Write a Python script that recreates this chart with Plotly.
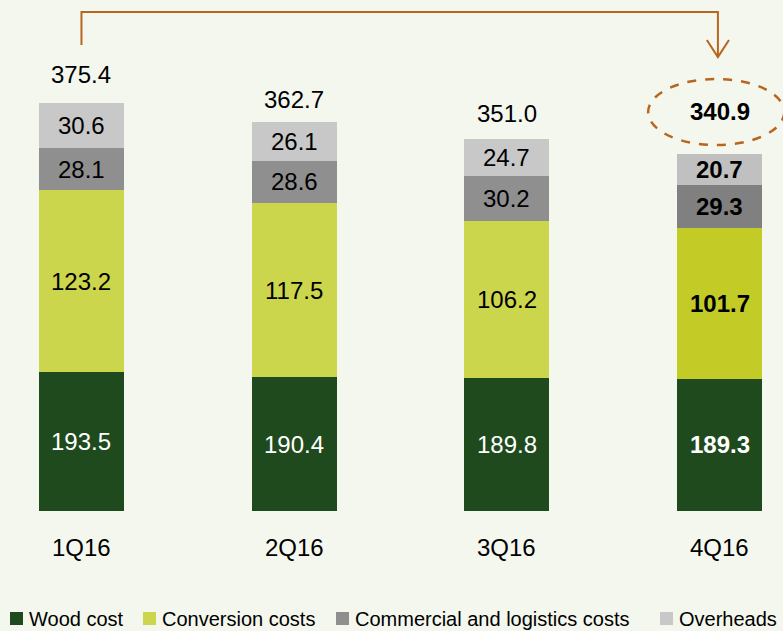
import plotly.graph_objects as go

quarters = ["1Q16", "2Q16", "3Q16", "4Q16"]
wood_cost = [193.5, 190.4, 189.8, 189.3]
conversion_costs = [123.2, 117.5, 106.2, 101.7]
commercial_logistics = [28.1, 28.6, 30.2, 29.3]
overheads = [30.6, 26.1, 24.7, 20.7]
totals = [375.4, 362.7, 351.0, 340.9]
series_names = ["Wood cost", "Conversion costs", "Commercial and logistics costs", "Overheads"]

FONT = "Liberation Sans, Arial, sans-serif"
FS = 24
BG = "#F4F7EE"
Y_MIN, Y_MAX = 100, 444.9
W, H = 783, 631

col_wood = ["#1F4A1E"] * 4
col_conv = ["#CCD64C"] * 3 + ["#C3CC27"]
col_comm = ["#8F8F8F"] * 3 + ["#808080"]
col_over = ["#C8C8C8"] * 3 + ["#C0C0C0"]
legend_colors = ["#1F4A1E", "#CCD64C", "#8F8F8F", "#C8C8C8"]

fig = go.Figure()
series = [wood_cost, conversion_costs, commercial_logistics, overheads]
colors = [col_wood, col_conv, col_comm, col_over]
for name, vals, cols in zip(series_names, series, colors):
    fig.add_trace(go.Bar(x=quarters, y=vals, name=name, marker=dict(color=cols, line=dict(width=0)),
                         width=0.40, showlegend=False, hoverinfo="x+y+name"))

annotations = []
# segment labels
for i, q in enumerate(quarters):
    bold = i == 3
    base = 0
    for k, vals in enumerate(series):
        v = vals[i]
        lo = max(base, Y_MIN)
        hi = base + v
        mid = (lo + hi) / 2
        txt = f"{v:.1f}"
        if bold:
            txt = f"<b>{txt}</b>"
        annotations.append(dict(x=q, y=mid, xref="x", yref="y", text=txt, showarrow=False,
                                font=dict(family=FONT, size=FS, color="white" if k == 0 else "black"),
                                yanchor="middle", xanchor="center"))
        base = hi

# totals
total_shift = [28, 22, 26, 43]
for i, q in enumerate(quarters):
    txt = f"{totals[i]:.1f}"
    if i == 3:
        txt = f"<b>{txt}</b>"
    annotations.append(dict(x=q, y=totals[i], xref="x", yref="y", text=txt, showarrow=False,
                            yshift=total_shift[i], yanchor="middle",
                            font=dict(family=FONT, size=FS, color="black")))

# category labels
for q in quarters:
    annotations.append(dict(x=q, y=0, xref="x", yref="paper", text=q, showarrow=False,
                            yshift=-36, yanchor="middle",
                            font=dict(family=FONT, size=FS, color="black")))

# manual legend
plot_h = 511
def py(px):
    return (plot_h - px) / plot_h

legend_sq_x = [10, 143, 336, 660]
shapes = []
for name, c, sx in zip(series_names, legend_colors, legend_sq_x):
    shapes.append(dict(type="rect", xref="paper", yref="paper", x0=sx / W, x1=(sx + 13) / W,
                       y0=py(625), y1=py(612), fillcolor=c, line=dict(width=0)))
    annotations.append(dict(x=(sx + 17) / W, y=py(618.5), xref="paper", yref="paper", text=name,
                            showarrow=False, xanchor="left", yanchor="middle",
                            font=dict(family=FONT, size=20, color="black")))

# arrow from 1Q16 to 4Q16
ARROW = "#B8651E"
shapes.append(dict(type="path", xref="x", yref="y",
                   path="M 0,414.5 L 0,436.8 L 2.992,436.8 L 2.992,406.4",
                   line=dict(color=ARROW, width=2)))
shapes.append(dict(type="path", xref="x", yref="y",
                   path="M 2.94,417.9 L 2.992,406.4 L 3.044,417.9",
                   line=dict(color=ARROW, width=2)))
# dashed ellipse around 4Q16 total
shapes.append(dict(type="circle", xref="x", yref="y",
                   x0=3 - 0.016 - 0.32, x1=3 - 0.016 + 0.32,
                   y0=369.3 - 22.3, y1=369.3 + 22.3,
                   line=dict(color=ARROW, width=2.5, dash="dash")))

fig.update_layout(
    barmode="stack",
    width=W, height=H,
    margin=dict(l=0, r=0, t=0, b=120),
    paper_bgcolor=BG, plot_bgcolor=BG,
    xaxis=dict(range=[-0.383, 3.298], visible=False, type="category"),
    yaxis=dict(range=[Y_MIN, Y_MAX], visible=False),
    annotations=annotations,
    shapes=shapes,
    showlegend=False,
    font=dict(family=FONT),
)

fig.write_html("out.html", config={"displayModeBar": False},
               post_script="document.body.style.margin='0';document.body.style.overflow='hidden';")
